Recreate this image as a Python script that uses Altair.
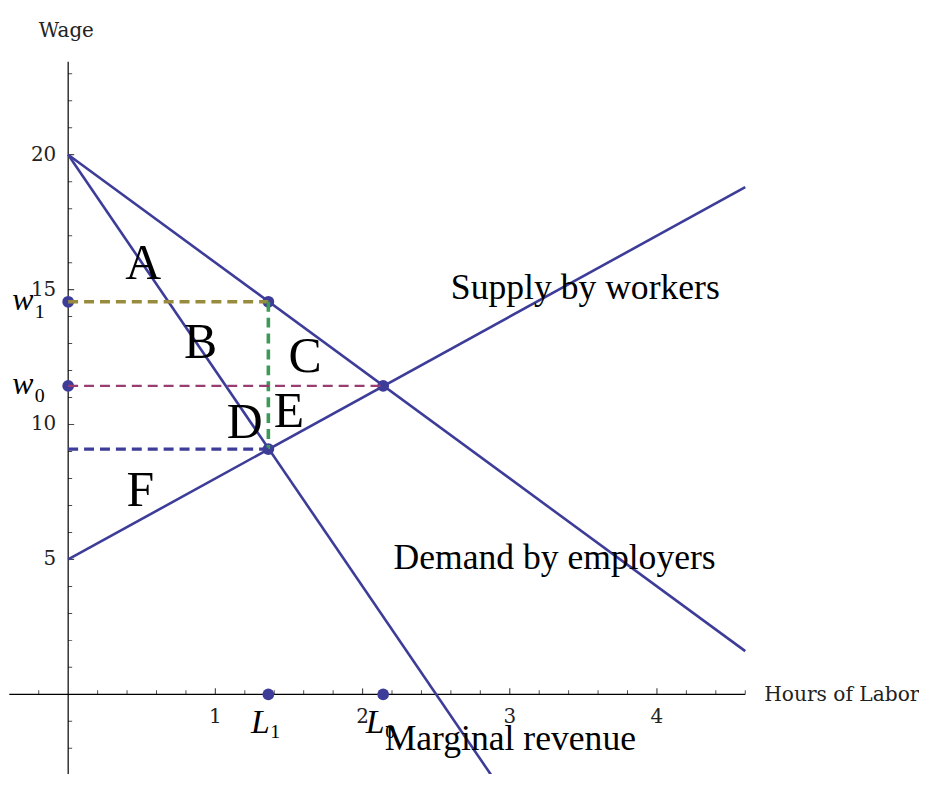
import altair as alt
import pandas as pd

# ---------------- data ----------------
demand_L = [0.0, 4.6]
demand_w = [20.0, 1.6]
supply_L = [0.0, 4.6]
supply_w = [5.0, 18.8]
mr_L = [0.0, 3.0]
mr_w = [20.0, -4.0]

L0, w0 = 2.14, 11.43     # competitive equilibrium
L1, w1 = 1.36, 14.55     # monopsony-like outcome (employer wage on demand)
w_mr = 9.09              # MR meets supply

x_major = [1, 2, 3, 4]
x_minor = [-0.2, 0.2, 0.4, 0.6, 0.8, 1.2, 1.4, 1.6, 1.8, 2.2, 2.4, 2.6, 2.8,
           3.2, 3.4, 3.6, 3.8, 4.2, 4.4, 4.6]
y_major = [5, 10, 15, 20]
y_minor = [-3, -2, -1, 1, 2, 3, 4, 6, 7, 8, 9, 11, 12, 13, 14, 16, 17, 18, 19,
           21, 22, 23]
x_axis_range = [-0.4, 4.6]
y_axis_range = [-3.5, 23.45]

region_letters = ["A", "B", "C", "D", "E", "F"]
region_x = [0.51, 0.90, 1.61, 1.20, 1.50, 0.49]
region_y = [15.41, 12.46, 11.94, 9.51, 9.92, 6.97]

curve_names = ["Supply by workers", "Demand by employers", "Marginal revenue"]
curve_name_x = [2.60, 2.21, 2.15]
curve_name_y = [14.67, 4.64, -2.06]

BLUE = "#3d3d99"
OLIVE = "#998b3d"
GREEN = "#3d9957"
PURPLE = "#993d71"

XS = alt.Scale(domain=[-0.4088, 5.7804], nice=False, zero=False)
YS = alt.Scale(domain=[-2.949, 25.36], nice=False, zero=False)


def X(field="x"):
    return alt.X(f"{field}:Q", scale=XS, axis=None)


def Y(field="y"):
    return alt.Y(f"{field}:Q", scale=YS, axis=None)


# ---------------- axes ----------------
axes_df = pd.DataFrame({
    "x": [x_axis_range[0], 0.0],
    "x2": [x_axis_range[1], 0.0],
    "y": [0.0, y_axis_range[0]],
    "y2": [0.0, y_axis_range[1]],
})
axes = alt.Chart(axes_df).mark_rule(color="black", strokeWidth=1.2, clip=True).encode(
    x=X(), x2="x2:Q", y=Y(), y2="y2:Q")

xmaj = alt.Chart(pd.DataFrame({"x": x_major, "y": [0.0] * len(x_major)})).mark_tick(
    orient="vertical", size=6, thickness=1.2, color="black", yOffset=-3).encode(x=X(), y=Y())
xmin = alt.Chart(pd.DataFrame({"x": x_minor, "y": [0.0] * len(x_minor)})).mark_tick(
    orient="vertical", size=4, thickness=1, color="black", yOffset=-2).encode(x=X(), y=Y())
ymaj = alt.Chart(pd.DataFrame({"x": [0.0] * len(y_major), "y": y_major})).mark_tick(
    orient="horizontal", size=6, thickness=1.2, color="black", xOffset=3).encode(x=X(), y=Y())
ymin = alt.Chart(pd.DataFrame({"x": [0.0] * len(y_minor), "y": y_minor})).mark_tick(
    orient="horizontal", size=4, thickness=1, color="black", xOffset=2, clip=True).encode(x=X(), y=Y())

xlab = alt.Chart(pd.DataFrame({"x": x_major, "y": [0.0] * len(x_major),
                               "t": [str(v) for v in x_major]})).mark_text(
    font="DejaVu Serif", fontSize=20, color="#222", dy=23, baseline="middle", align="center"
).encode(x=X(), y=Y(), text="t:N")
ylab = alt.Chart(pd.DataFrame({"x": [0.0] * len(y_major), "y": y_major,
                               "t": [str(v) for v in y_major]})).mark_text(
    font="DejaVu Serif", fontSize=20, color="#222", dx=-12, baseline="middle", align="right"
).encode(x=X(), y=Y(), text="t:N")

wage_title = alt.Chart(pd.DataFrame({"x": [0.0], "y": [y_axis_range[1]], "t": ["Wage"]})).mark_text(
    font="DejaVu Serif", fontSize=20, color="#222", align="left", baseline="alphabetic",
    dx=-29.5, dy=-25).encode(x=X(), y=Y(), text="t:N")
hours_title = alt.Chart(pd.DataFrame({"x": [x_axis_range[1]], "y": [0.0],
                                      "t": ["Hours of Labor"]})).mark_text(
    font="DejaVu Serif", fontSize=20.3, color="#222", align="left", baseline="middle",
    dx=19, dy=1).encode(x=X(), y=Y(), text="t:N")

# ---------------- curves ----------------
lines_df = pd.concat([
    pd.DataFrame({"x": demand_L, "y": demand_w, "s": "demand"}),
    pd.DataFrame({"x": supply_L, "y": supply_w, "s": "supply"}),
    pd.DataFrame({"x": mr_L, "y": mr_w, "s": "mr"}),
])
curves = alt.Chart(lines_df).mark_line(color=BLUE, strokeWidth=2.6, clip=True).encode(
    x=X(), y=Y(), detail="s:N")

# ---------------- dashed guides ----------------
dash_df = pd.DataFrame({
    "x": [0.0, L1, 0.0, 0.0],
    "x2": [L1, L1, L0, L1],
    "y": [w1, w1, w0, w_mr],
    "y2": [w1, w_mr, w0, w_mr],
    "c": [OLIVE, GREEN, PURPLE, BLUE],
    "w": [3.6, 3.6, 2.2, 3.2],
})

points_df = pd.DataFrame({
    "x": [0.0, 0.0, L1, L0, L1, L1, L0],
    "y": [w1, w0, w1, w0, w_mr, 0.0, 0.0],
})
points = alt.Chart(points_df).mark_point(filled=True, shape="circle", size=140,
                                         color=BLUE, opacity=1).encode(x=X(), y=Y())

dashes = alt.Chart(dash_df).mark_rule(strokeDash=[10, 6]).encode(
    x=X(), x2="x2:Q", y=Y(), y2="y2:Q",
    color=alt.Color("c:N", scale=None),
    strokeWidth=alt.StrokeWidth("w:Q", scale=None))

# ---------------- annotations ----------------
letters = alt.Chart(pd.DataFrame({"x": region_x, "y": region_y, "t": region_letters})).mark_text(
    font="Liberation Serif", fontSize=50, color="black", align="center", baseline="alphabetic"
).encode(x=X(), y=Y(), text="t:N")

names = alt.Chart(pd.DataFrame({"x": curve_name_x, "y": curve_name_y, "t": curve_names})).mark_text(
    font="Liberation Serif", fontSize=35.8, color="black", align="left", baseline="alphabetic"
).encode(x=X(), y=Y(), text="t:N")

w_df = pd.DataFrame({"x": [0.0, 0.0], "y": [w1, w0], "t": ["w", "w"], "s": ["1", "0"]})
w_main = alt.Chart(w_df).mark_text(font="Liberation Serif", fontStyle="italic", fontSize=32,
                                   color="black", align="right", baseline="alphabetic",
                                   dx=-35, dy=8).encode(x=X(), y=Y(), text="t:N")
w_sub = alt.Chart(w_df).mark_text(font="Liberation Serif", fontSize=20, color="black",
                                  align="left", baseline="alphabetic",
                                  dx=-33.5, dy=16.5).encode(x=X(), y=Y(), text="s:N")

L_df = pd.DataFrame({"x": [L1, L0], "y": [0.0, 0.0], "t": ["L", "L"], "s": ["1", "0"]})
L_main = alt.Chart(L_df).mark_text(font="Liberation Serif", fontStyle="italic", fontSize=34,
                                   color="black", align="center", baseline="alphabetic",
                                   dx=-8, dy=39).encode(x=X(), y=Y(), text="t:N")
L_sub = alt.Chart(L_df).mark_text(font="Liberation Serif", fontSize=20, color="black",
                                  align="center", baseline="alphabetic",
                                  dx=7, dy=44).encode(x=X(), y=Y(), text="s:N")

chart = alt.layer(
    axes, xmaj, xmin, ymaj, ymin, xlab, ylab, wage_title, hours_title,
    curves, points, dashes, letters, names, w_main, w_sub, L_main, L_sub
).properties(
    width=916, height=768, padding=0, autosize=alt.AutoSizeParams(type="none"),
    background="white"
).configure_view(stroke=None)

chart.save("out.html", embed_options={"renderer": "svg", "actions": False})
